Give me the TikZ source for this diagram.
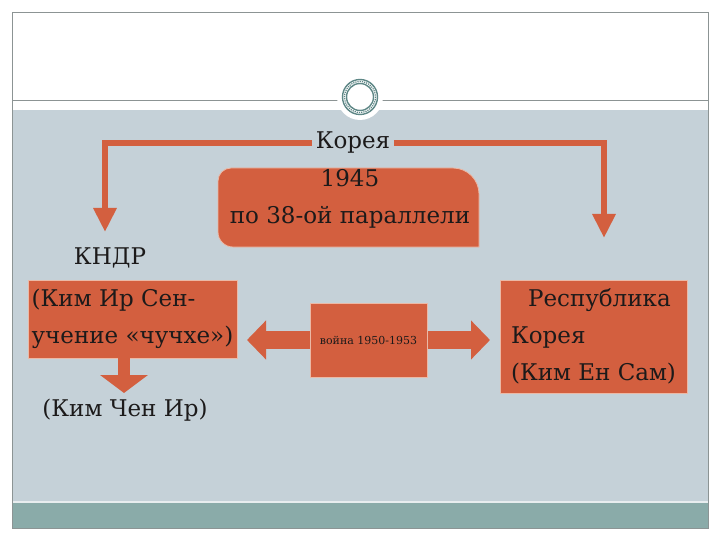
\documentclass[tikz,border=0pt]{standalone}
\usepackage{fontspec}
\setmainfont{DejaVu Serif}
\usetikzlibrary{arrows.meta}
\usetikzlibrary{positioning}

\definecolor{slidebg}{HTML}{C5D1D8}
\definecolor{bandteal}{HTML}{8AABA9}
\definecolor{boxred}{HTML}{D35F3F}
\definecolor{boxedge}{HTML}{EBB9A6}
\definecolor{framegray}{HTML}{8C9494}
\definecolor{ringteal}{HTML}{5E8786}
\definecolor{inkdark}{HTML}{1C1A1A}

\begin{document}
\begin{tikzpicture}[x=1pt, y=-1pt, every node/.style={text=inkdark, font=\fontsize{23}{37}\selectfont}]
		\tikzstyle{panel}=[fill=boxred, draw=boxedge, line width=0.8pt]
		\tikzstyle{bar}=[draw=boxred, line width=6pt, -{Triangle[width=22pt,length=24pt]}]
		\tikzstyle{fat}=[draw=boxred, line width=12pt, -{Triangle[width=47pt,length=18pt]}]
		\tikzstyle{twoway}=[draw=boxred, line width=18pt, {Triangle[width=38pt,length=19pt]}-{Triangle[width=38pt,length=19pt]}]
		\useasboundingbox (0,0) rectangle (720,540);

    % Slide
		\fill[white] (0,0) rectangle (720,540);
		\fill[slidebg] (12,110) rectangle (708,502);
		\fill[bandteal] (12,502) rectangle (708,528);
		\draw[white!60!slidebg, line width=1.2pt] (12,502) -- (708,502);
		\draw[framegray] (12,12) rectangle (708,528);
		\draw[framegray] (12,100) -- (708,100);
		\fill[white] (360,97) circle (23);
		\draw[ringteal, line width=1.4pt] (360,97) circle (17.5);
		\draw[ringteal, line width=1.2pt, densely dotted] (360,97) circle (15.5);
		\draw[ringteal, line width=1.4pt] (360,97) circle (13.5);

    % Korea 1945
		\node(korea) at (353,143){Корея};
		\path[panel] (218,210) [rounded corners=13] -- (218,168) [rounded corners=26] -- (479,168) [sharp corners] -- (479,247) [rounded corners=15] -- (218,247) -- cycle;
		\node[align=center](date) at (350,199){1945\\по 38-ой параллели};

    % North
		\node(kndr) at (110,258){КНДР};
		\node[panel, minimum width=209pt, minimum height=78pt, align=left, inner sep=2pt](kim1) at (132.5,319){(Ким Ир Сен-\\учение «чучхе»)};
		\coordinate(kim2tip) at (124,393);
		\node(kim2) at (125,410){(Ким Чен Ир)};

    % South
		\node[panel, minimum width=187pt, minimum height=113pt, align=left, inner sep=2pt](rok) at (593.5,336.5){\hspace*{17pt}Республика\\Корея\\(Ким Ен Сам)};

    % Connections
		\coordinate(ltip) at (105,232);
		\coordinate(rtip) at (604,238);
		\draw[bar] (korea.west) -| (ltip);
		\draw[bar] (korea.east) -| (rtip);
		\draw[fat] (kim1.south -| kim2tip) -- (kim2tip);

		\coordinate(wl) at (247,340);
		\coordinate(wr) at (490,340);
		\draw[twoway] (wl) -- (wr);
		\node[panel, minimum width=117pt, minimum height=74pt, font=\fontsize{11}{13}\selectfont](war) at (368.5,340){война 1950-1953};

  \end{tikzpicture}
\end{document}
